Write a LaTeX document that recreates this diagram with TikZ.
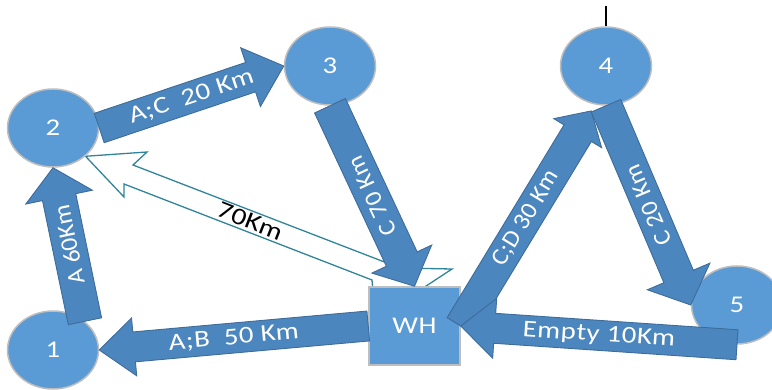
\documentclass[tikz,border=0pt]{standalone}
\usepackage{fontspec}
\setmainfont{Carlito}
\newfontfamily\fH[FakeStretch=1.2,LetterSpace=2.5]{Carlito}
\newfontfamily\fM[FakeStretch=1.22]{Carlito}
\newfontfamily\fV[FakeStretch=1.05,LetterSpace=1.5]{Carlito}
\usetikzlibrary{shapes.geometric,calc,backgrounds}
\definecolor{ellfill}{RGB}{91,155,213}
\definecolor{ellline}{RGB}{190,190,190}
\definecolor{arrfill}{RGB}{76,134,190}
\definecolor{arrline}{RGB}{62,108,155}
\definecolor{tealline}{RGB}{49,133,155}
\tikzset{
  ell/.style={ellipse, minimum width=91pt, minimum height=78pt, inner sep=0pt,
    fill=ellfill, draw=ellline, line width=1.5pt, text=white,
    font=\fH\fontsize{24}{28}\selectfont},
  whbox/.style={rectangle, minimum width=91pt, minimum height=78pt, inner sep=0pt,
    fill=ellfill, draw=ellline, line width=1.5pt, text=white,
    font=\fH\fontsize{24}{28}\selectfont},
  barrow/.style={fill=arrfill, draw=arrline, line width=0.9pt, line join=miter},
  lab/.style={text=white, inner sep=0pt, font=\fontsize{24}{28}\selectfont},
  outarrow/.style={fill=white, draw=tealline, line width=1.3pt},
}
% #1 tail, #2 tip, #3 label, #4 extra text rotation, #5 shaft half width, #6 head half width, #7 head length
\newcommand\blockarrow[7]{%
  \path[barrow] let \p1=(#1), \p2=(#2),
      \n1={atan2(\y2-\y1,\x2-\x1)}, \n2={veclen(\x2-\x1,\y2-\y1)} in
    ($(\p1)+(\n1+90:#5pt)$)
    -- ($(\p1)+(\n1:\n2*1pt-#7pt)+(\n1+90:#5pt)$)
    -- ($(\p1)+(\n1:\n2*1pt-#7pt)+(\n1+90:#6pt)$)
    -- (\p2)
    -- ($(\p1)+(\n1:\n2*1pt-#7pt)+(\n1-90:#6pt)$)
    -- ($(\p1)+(\n1:\n2*1pt-#7pt)+(\n1-90:#5pt)$)
    -- ($(\p1)+(\n1-90:#5pt)$) -- cycle;
  \path let \p1=(#1), \p2=(#2),
      \n1={atan2(\y2-\y1,\x2-\x1)} in
    ($(\p1)!0.5!(\p2)$) node[lab, rotate=\n1+#4] {#3};
}
\begin{document}
\begin{tikzpicture}[x=1pt, y=-1pt]
\useasboundingbox (0,0) rectangle (772,390);
% nodes
\node[ell] (n1) at (53,350) {1};
\node[ell] (n2) at (53,128) {2};
\node[ell] (n3) at (330,66) {3};
\node[ell] (n4) at (606,66) {4};
\node[ell] (n5) at (737,305) {5};
\node[whbox] (wh) at (414.5,326) {WH};
% short line above node 4
\coordinate (top4) at ($(n4.north)+(0,-20)$);
\draw[line width=1.5pt] (n4.north) -- (top4);
% outline arrow WH -> 2
\begin{pgfonlayer}{background}
\path[outarrow] (n2.-41) -- (147,152) -- (133,165) -- (400,268) -- (452,269)
  -- (417,292) -- (373,292) -- (372,280) -- (124,184) -- (124,197) -- cycle;
\end{pgfonlayer}
\node[inner sep=0pt, text=black, font=\fM\fontsize{24}{28}\selectfont, rotate=-21.5]
  (lab70) at ($(n2.-41)!0.5!(wh.north)$) {70Km};
% block arrows
\coordinate (t4) at ($(n4.250)+(-1,7)$);
\blockarrow{n2.east}{n3.west}{\fH A;C\ \ 20 Km}{0}{15.5}{31}{35}
\blockarrow{n3.south}{wh.north}{\fV C 70 Km}{180}{17}{33}{30}
\blockarrow{wh.east}{t4}{\fV C;D 30 Km}{0}{16}{28}{26}
\blockarrow{n4.south}{n5.west}{\fV C 20 Km}{180}{16}{34}{31}
\blockarrow{n5.south}{wh.east}{\fH Empty 10Km}{180}{15}{30}{34}
\blockarrow{wh.west}{n1.east}{\fH A;B\ \ 50 Km}{180}{15}{29}{35}
\blockarrow{n1.42}{n2.south}{\fV A 60Km}{0}{17}{34}{30}
\end{tikzpicture}
\end{document}
